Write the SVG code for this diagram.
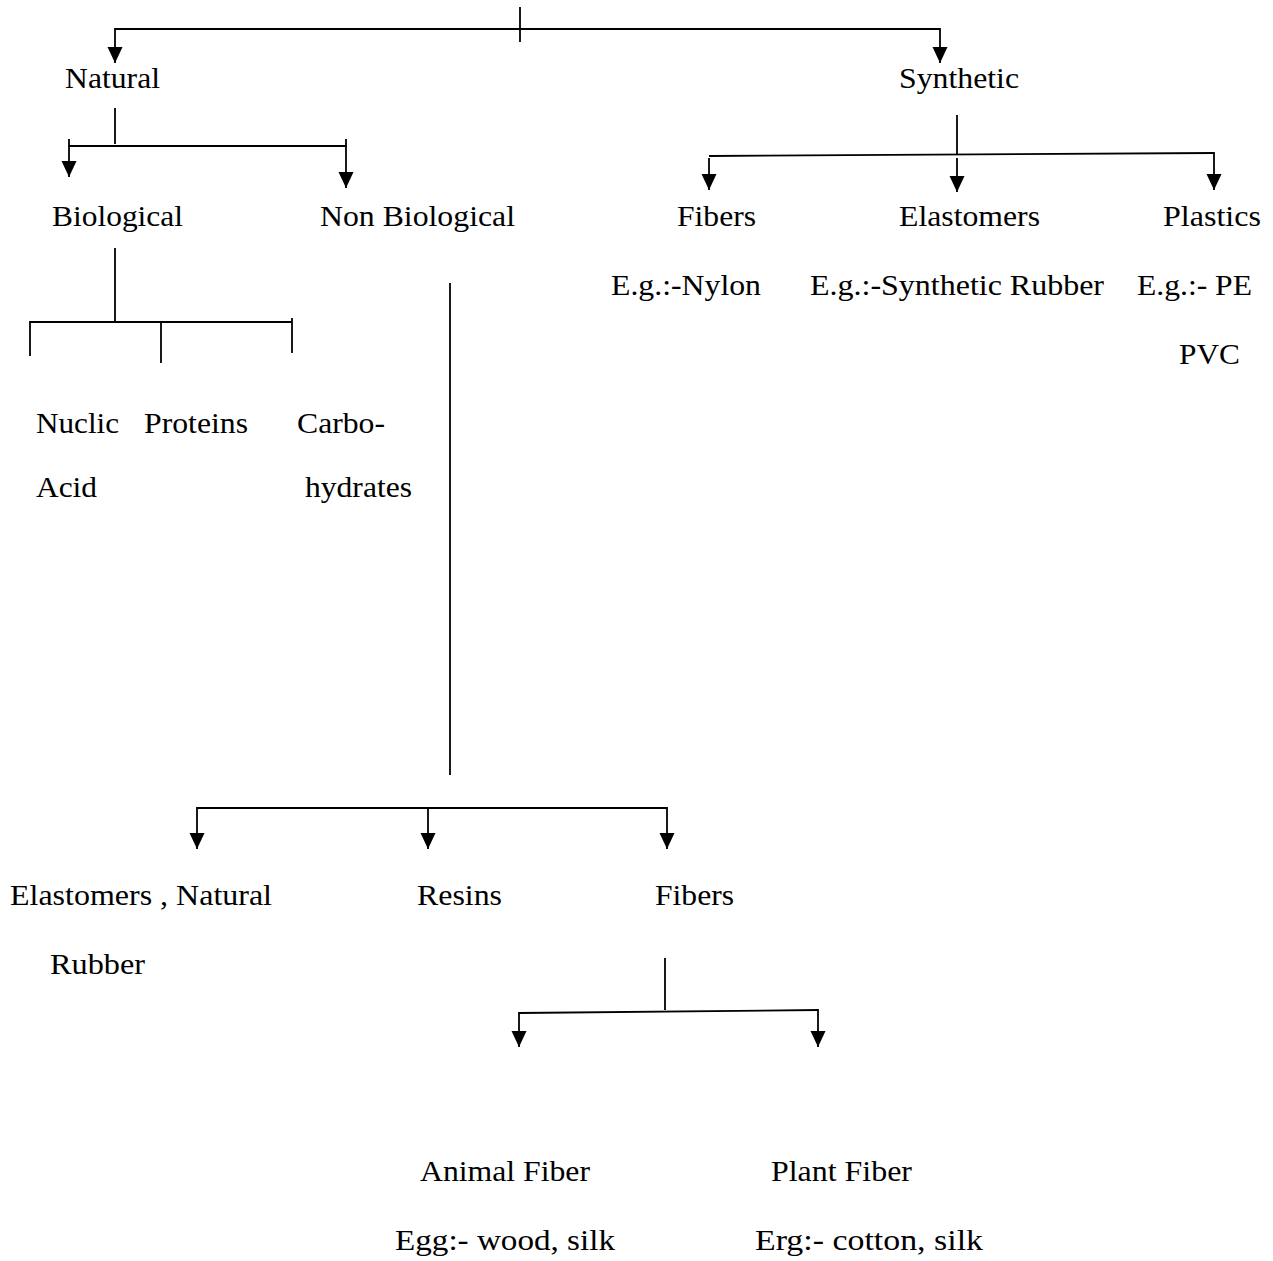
<svg xmlns="http://www.w3.org/2000/svg" width="1273" height="1261" viewBox="0 0 1273 1261">
<style>
.c line,.c path{stroke:#000;stroke-width:1.8;fill:none}
</style>
<defs>
<marker id="ah" markerUnits="userSpaceOnUse" markerWidth="17" markerHeight="17" viewBox="0 0 17 17" refX="16" refY="8.5" orient="auto">
<path d="M0,1 L16,8.5 L0,16 Z" fill="#000"/>
</marker>
</defs>
<rect width="1273" height="1261" fill="#fff"/>
<g class="c" id="connectors">
<line x1="520" y1="7" x2="520" y2="42"/>
<line x1="115" y1="29" x2="940" y2="29"/>
<line x1="115" y1="28" x2="115" y2="63" marker-end="url(#ah)"/>
<line x1="940" y1="28" x2="940" y2="63" marker-end="url(#ah)"/>
<line x1="115" y1="108" x2="115" y2="144"/>
<path d="M69,139 V146 H346 V139"/>
<line x1="69" y1="146" x2="69" y2="177" marker-end="url(#ah)"/>
<line x1="346" y1="146" x2="346" y2="188" marker-end="url(#ah)"/>
<line x1="115" y1="248" x2="115" y2="322"/>
<path d="M30,356 V322 H292"/>
<line x1="292" y1="318" x2="292" y2="353"/>
<line x1="161" y1="322" x2="161" y2="363"/>
<line x1="450" y1="283" x2="450" y2="775"/>
<line x1="957" y1="115" x2="957" y2="154"/>
<line x1="709" y1="156" x2="1214" y2="153"/>
<line x1="709" y1="158" x2="709" y2="190" marker-end="url(#ah)"/>
<line x1="957" y1="158" x2="957" y2="192" marker-end="url(#ah)"/>
<line x1="1214" y1="152" x2="1214" y2="190" marker-end="url(#ah)"/>
<line x1="197" y1="808" x2="667" y2="808"/>
<line x1="197" y1="807" x2="197" y2="849" marker-end="url(#ah)"/>
<line x1="428" y1="808" x2="428" y2="849" marker-end="url(#ah)"/>
<line x1="667" y1="807" x2="667" y2="849" marker-end="url(#ah)"/>
<line x1="665" y1="958" x2="665" y2="1010"/>
<line x1="519" y1="1013" x2="818" y2="1010"/>
<line x1="519" y1="1012" x2="519" y2="1047" marker-end="url(#ah)"/>
<line x1="818" y1="1009" x2="818" y2="1047" marker-end="url(#ah)"/>
</g>
<g font-family="Liberation Serif, Times New Roman, serif" font-size="30" fill="#000">
<g id="n-natural"><text x="65" y="88" textLength="95" lengthAdjust="spacingAndGlyphs">Natural</text></g>
<g id="n-synthetic"><text x="899" y="88" textLength="120" lengthAdjust="spacingAndGlyphs">Synthetic</text></g>
<g id="n-biological"><text x="52" y="226" textLength="131" lengthAdjust="spacingAndGlyphs">Biological</text></g>
<g id="n-nonbiological"><text x="320" y="226" textLength="195" lengthAdjust="spacingAndGlyphs">Non Biological</text></g>
<g id="n-fibers-syn"><text x="677" y="226" textLength="79" lengthAdjust="spacingAndGlyphs">Fibers</text>
<text x="611" y="295" textLength="150" lengthAdjust="spacingAndGlyphs">E.g.:-Nylon</text></g>
<g id="n-elastomers-syn"><text x="899" y="226" textLength="141" lengthAdjust="spacingAndGlyphs">Elastomers</text>
<text x="810" y="295" textLength="294" lengthAdjust="spacingAndGlyphs">E.g.:-Synthetic Rubber</text></g>
<g id="n-plastics"><text x="1163" y="226" textLength="98" lengthAdjust="spacingAndGlyphs">Plastics</text>
<text x="1137" y="295" textLength="115" lengthAdjust="spacingAndGlyphs">E.g.:- PE</text>
<text x="1179" y="364" textLength="61" lengthAdjust="spacingAndGlyphs">PVC</text></g>
<g id="n-nucleic"><text x="36" y="433" textLength="83" lengthAdjust="spacingAndGlyphs">Nuclic</text>
<text x="36" y="497" textLength="61" lengthAdjust="spacingAndGlyphs">Acid</text></g>
<g id="n-proteins"><text x="144" y="433" textLength="104" lengthAdjust="spacingAndGlyphs">Proteins</text></g>
<g id="n-carbo"><text x="297" y="433" textLength="88" lengthAdjust="spacingAndGlyphs">Carbo-</text>
<text x="305" y="497" textLength="107" lengthAdjust="spacingAndGlyphs">hydrates</text></g>
<g id="n-elastomers-nat"><text x="10" y="905" textLength="262" lengthAdjust="spacingAndGlyphs">Elastomers , Natural</text>
<text x="50" y="974" textLength="95" lengthAdjust="spacingAndGlyphs">Rubber</text></g>
<g id="n-resins"><text x="417" y="905" textLength="85" lengthAdjust="spacingAndGlyphs">Resins</text></g>
<g id="n-fibers-nat"><text x="655" y="905" textLength="79" lengthAdjust="spacingAndGlyphs">Fibers</text></g>
<g id="n-animal"><text x="420" y="1181" textLength="170" lengthAdjust="spacingAndGlyphs">Animal Fiber</text>
<text x="395" y="1250" textLength="220" lengthAdjust="spacingAndGlyphs">Egg:- wood, silk</text></g>
<g id="n-plant"><text x="771" y="1181" textLength="141" lengthAdjust="spacingAndGlyphs">Plant Fiber</text>
<text x="755" y="1250" textLength="228" lengthAdjust="spacingAndGlyphs">Erg:- cotton, silk</text></g>
</g>
</svg>
